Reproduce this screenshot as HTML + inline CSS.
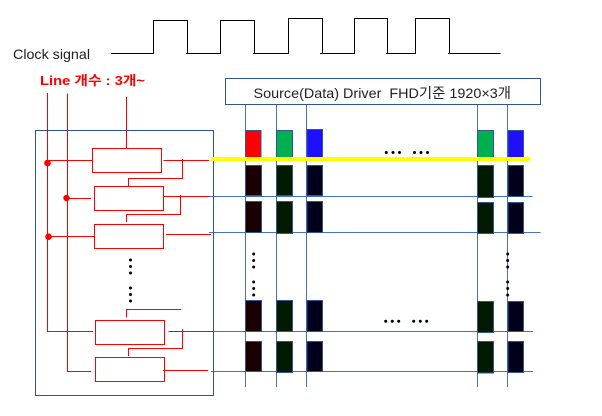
<!DOCTYPE html>
<html>
<head>
<meta charset="utf-8">
<style>
html,body{margin:0;padding:0;background:#fff;}
svg{display:block;}
text{font-family:"Liberation Sans","Noto Sans CJK KR",sans-serif;}
</style>
</head>
<body>
<svg width="602" height="416" viewBox="0 0 602 416" xmlns="http://www.w3.org/2000/svg">
<rect width="602" height="416" fill="#fff"/>
<!-- clock -->
<g fill="none" stroke="#000" stroke-width="1">
<path d="M111 53.5H153.5V20.5H187.5V53.5"/>
<path d="M186 53.5H220.5V20.5H254.5V53.5"/>
<path d="M253 53.5H288.5V18.5H322.5V53.5"/>
<path d="M320 53.5H354.5V18.5H387.5V53.5"/>
<path d="M386 53.5H415.5V18.5H449.5V53.5"/>
<path d="M448 53.5H500.5"/>
</g>
<text x="13" y="59" font-size="14" fill="#222" textLength="77" lengthAdjust="spacingAndGlyphs">Clock signal</text>
<text x="40" y="85" font-size="13" font-weight="bold" fill="#f00" textLength="105" lengthAdjust="spacingAndGlyphs">Line 개수 : 3개~</text>
<!-- blue lines -->
<g fill="none" stroke="#4472c4" stroke-width="1">
<path d="M245.5 104V387M276.5 104V387M306.5 104V387M477.5 104V387M507.5 104V387"/>
<path d="M209 196.5H532.5M209 232.5H540.5M213 331.5H533M211 371.5H533"/>
</g>
<!-- source box -->
<rect x="225.5" y="78.5" width="315" height="26" fill="#fff" stroke="#2f5597" stroke-width="1"/>
<text x="253.5" y="98" font-size="14" fill="#222" textLength="257.5" lengthAdjust="spacingAndGlyphs" xml:space="preserve">Source(Data) Driver  FHD기준 1920×3개</text>
<!-- left box -->
<rect x="35.5" y="130.5" width="178" height="265" fill="none" stroke="#2f5597" stroke-width="1"/>
<!-- cells -->
<g stroke="#2f5597" stroke-width="1">
<rect x="245.5" y="130.5" width="15.5" height="27" fill="#f00"/>
<rect x="276.5" y="130.5" width="16" height="27" fill="#00b050"/>
<rect x="307" y="129.5" width="15.5" height="28" fill="#1f0fff"/>
<rect x="477.5" y="130.5" width="16" height="27" fill="#00b050"/>
<rect x="508" y="130.5" width="15.5" height="27" fill="#1f0fff"/>

<rect x="245.5" y="165.5" width="16" height="30" fill="#1a0000"/>
<rect x="276.5" y="165.5" width="16" height="30" fill="#001a00"/>
<rect x="307" y="165.5" width="15.5" height="30" fill="#00001a"/>
<rect x="477.5" y="165.5" width="16" height="32" fill="#001a00"/>
<rect x="508" y="165.5" width="15.5" height="31" fill="#00001a"/>

<rect x="245.5" y="201.5" width="16" height="31" fill="#1a0000"/>
<rect x="276.5" y="201.5" width="16" height="32" fill="#001a00"/>
<rect x="307" y="201.5" width="15.5" height="31" fill="#00001a"/>
<rect x="477.5" y="202.5" width="16" height="31" fill="#001a00"/>
<rect x="508" y="202.5" width="15.5" height="31" fill="#00001a"/>

<rect x="245.5" y="300.5" width="16" height="31" fill="#1a0000"/>
<rect x="276.5" y="300.5" width="16" height="31" fill="#001a00"/>
<rect x="307" y="300.5" width="15.5" height="31" fill="#00001a"/>
<rect x="477.5" y="301.5" width="16" height="31" fill="#001a00"/>
<rect x="508" y="301.5" width="15.5" height="30" fill="#00001a"/>

<rect x="245.5" y="341.5" width="16" height="30" fill="#1a0000"/>
<rect x="276.5" y="341.5" width="16" height="31" fill="#001a00"/>
<rect x="307" y="341.5" width="15.5" height="30" fill="#00001a"/>
<rect x="477.5" y="341.5" width="16" height="31.5" fill="#001a00"/>
<rect x="508" y="341.5" width="15.5" height="31" fill="#00001a"/>
</g>
<!-- yellow arrow -->
<rect x="211" y="157" width="316" height="4" fill="#ff0"/>
<path d="M527 155.5L531 159L527 162.5Z" fill="#ff0"/>
<!-- red -->
<g fill="none" stroke="#f00" stroke-width="1">
<path d="M47.5 93V331.5H93"/>
<path d="M67.5 93.5V371.5H91"/>
<path d="M126.5 97V148.5"/>
<rect x="92.5" y="148.5" width="69" height="24"/>
<rect x="94.5" y="186.5" width="69" height="24"/>
<rect x="94.5" y="224.5" width="69" height="24"/>
<rect x="95.5" y="320.5" width="69" height="24"/>
<rect x="95.5" y="357.5" width="69" height="24"/>
<path d="M47.5 160.5H92"/>
<path d="M163.5 160.5H209"/>
<path d="M182.5 159V178.5H128.5V186"/>
<path d="M66 198.5H91"/>
<path d="M164 196.5H209"/>
<path d="M180.5 195V214.5H126.5V222"/>
<path d="M48 236.5H94"/>
<path d="M166 234.5H211"/>
<path d="M181 309.5H126.5V317.5"/>
<path d="M168.5 331.5H213"/>
<path d="M182.5 329V348.5H128.5V356"/>
<path d="M163 370.5H208"/>
</g>
<g fill="#f00">
<circle cx="47.5" cy="163" r="3.3"/>
<circle cx="66.5" cy="198" r="3.2"/>
<circle cx="48.5" cy="236.7" r="3.3"/>
</g>
<!-- dots -->
<g fill="#000">
<circle cx="130.5" cy="260" r="1.5"/><circle cx="130.5" cy="266.5" r="1.5"/><circle cx="130.5" cy="273" r="1.5"/>
<circle cx="130.5" cy="288" r="1.5"/><circle cx="130.5" cy="294.5" r="1.5"/><circle cx="130.5" cy="301" r="1.5"/>
<circle cx="253.7" cy="254" r="1.5"/><circle cx="253.7" cy="260.5" r="1.5"/><circle cx="253.7" cy="267" r="1.5"/>
<circle cx="253.7" cy="282" r="1.5"/><circle cx="253.7" cy="288.5" r="1.5"/><circle cx="253.7" cy="295" r="1.5"/>
<circle cx="507.7" cy="254" r="1.5"/><circle cx="507.7" cy="260.5" r="1.5"/><circle cx="507.7" cy="267" r="1.5"/>
<circle cx="507.7" cy="282" r="1.5"/><circle cx="507.7" cy="288.5" r="1.5"/><circle cx="507.7" cy="295" r="1.5"/>
<circle cx="386.3" cy="152.5" r="1.5"/><circle cx="393" cy="152.5" r="1.5"/><circle cx="399.5" cy="152.5" r="1.5"/>
<circle cx="414.5" cy="152.5" r="1.5"/><circle cx="421" cy="152.5" r="1.5"/><circle cx="427.5" cy="152.5" r="1.5"/>
<circle cx="385.7" cy="321.3" r="1.5"/><circle cx="392.3" cy="321.3" r="1.5"/><circle cx="398.7" cy="321.3" r="1.5"/>
<circle cx="413.7" cy="321.3" r="1.5"/><circle cx="420.3" cy="321.3" r="1.5"/><circle cx="426.7" cy="321.3" r="1.5"/>
</g>
</svg>
</body>
</html>
